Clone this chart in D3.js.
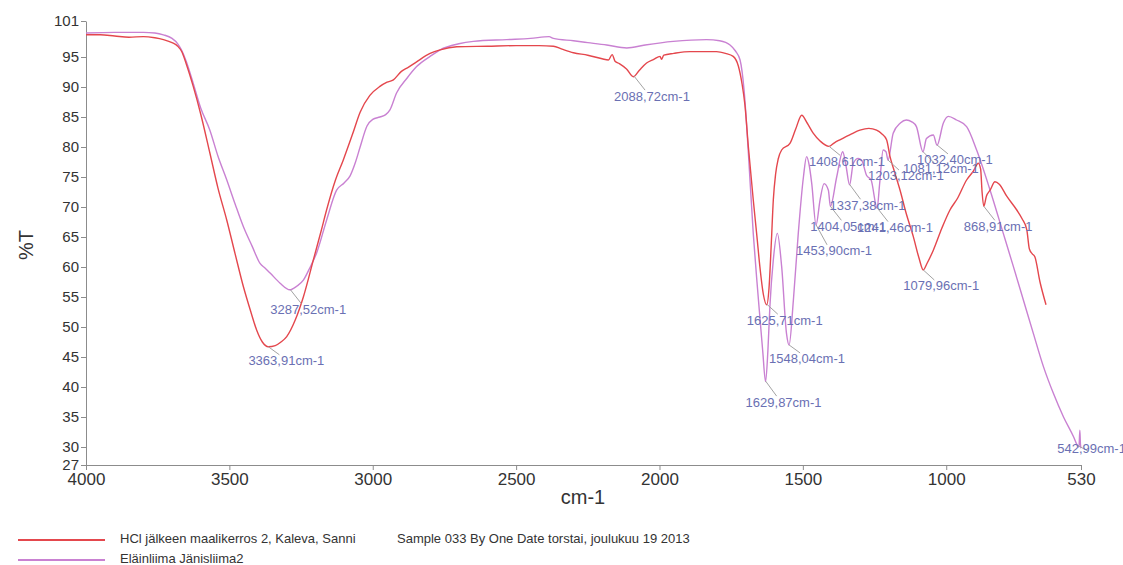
<!DOCTYPE html>
<html>
<head>
<meta charset="utf-8">
<script src="https://cdn.jsdelivr.net/npm/d3@7"></script>
<style>
  body { margin: 0; background: #fff; }
  text { font-family: "Liberation Sans", Arial, sans-serif; }
</style>
</head>
<body>
<div id="chart"></div>
<script>
// tick labels
const xTicks = [4000, 3500, 3000, 2500, 2000, 1500, 1000, 530];
const yTicks = [101, 95, 90, 85, 80, 75, 70, 65, 60, 55, 50, 45, 40, 35, 30, 27];

const seriesNames = ["HCl jälkeen maalikerros 2, Kaleva, Sanni", "Eläinliima Jänisliima2"];
const sampleNote = "Sample 033 By One Date torstai, joulukuu 19 2013";

// [wavenumber cm-1, %T]
const hclSpectrum = [
  [4000,98.7],[3950,98.7],[3900,98.5],[3850,98.3],[3800,98.4],[3760,98.2],[3730,97.9],[3700,97.4],
  [3680,96.8],[3665,95.8],[3650,93.8],[3626,90.1],[3600,85.5],[3568,79.0],[3540,73.2],[3509,67.8],
  [3480,62.2],[3451,56.7],[3425,52.5],[3405,49.5],[3385,47.5],[3364,46.7],[3340,46.9],[3320,47.5],
  [3300,48.4],[3270,51.2],[3242,55.0],[3207,61.2],[3180,66.0],[3161,69.5],[3130,74.5],[3103,77.8],
  [3070,82.2],[3044,85.8],[3010,88.6],[2975,90.1],[2950,90.8],[2928,91.2],[2900,92.6],[2875,93.3],
  [2847,94.2],[2800,95.6],[2765,96.2],[2707,96.7],[2600,96.8],[2500,96.9],[2420,96.9],[2370,96.8],
  [2340,96.3],[2300,95.7],[2250,95.3],[2200,94.7],[2178,94.5],[2165,95.4],[2155,94.3],[2140,93.9],
  [2115,93.0],[2091,91.7],[2070,92.8],[2045,94.0],[2020,94.6],[1998,95.1],[1993,94.6],[1985,95.3],
  [1950,95.6],[1894,95.9],[1801,95.9],[1770,95.6],[1743,95.1],[1725,93.5],[1712,90.5],[1702,87.0],
  [1690,80.0],[1673,71.2],[1660,65.0],[1650,60.1],[1638,55.5],[1626,53.7],[1618,56.5],[1610,64.0],
  [1603,71.2],[1595,75.5],[1586,78.0],[1574,79.5],[1545,80.6],[1525,83.0],[1504,85.3],[1485,84.0],
  [1464,82.3],[1440,81.0],[1409,80.1],[1390,80.7],[1371,81.2],[1330,82.2],[1301,82.8],[1270,83.1],
  [1243,82.8],[1225,82.2],[1208,81.2],[1196,78.4],[1180,75.8],[1161,72.8],[1140,69.0],[1115,65.1],
  [1095,61.5],[1080,59.5],[1068,60.5],[1045,62.8],[1015,66.5],[987,69.5],[960,71.5],[929,74.5],
  [905,76.0],[888,77.3],[880,76.3],[875,72.5],[869,70.1],[860,71.8],[847,72.8],[830,74.2],
  [815,73.8],[789,71.8],[754,69.5],[735,68.0],[719,66.2],[710,63.0],[700,62.2],[691,61.7],
  [673,57.5],[652,53.7]
];

const glueSpectrum = [
  [4000,99.0],[3900,99.1],[3800,99.1],[3760,99.0],[3730,98.7],[3700,98.1],[3680,97.2],[3665,96.0],
  [3650,94.2],[3626,90.6],[3600,86.5],[3568,82.8],[3540,78.5],[3509,74.5],[3480,70.5],[3451,66.7],
  [3420,63.4],[3393,60.6],[3375,59.8],[3358,59.0],[3323,57.3],[3289,56.2],[3265,56.8],[3242,57.8],
  [3220,59.8],[3196,62.3],[3161,67.8],[3126,72.8],[3100,74.0],[3079,75.2],[3060,77.5],[3044,80.0],
  [3020,83.5],[3000,84.6],[2975,85.0],[2955,85.4],[2940,86.2],[2917,89.0],[2880,91.5],[2847,93.4],
  [2800,95.1],[2765,96.2],[2700,97.2],[2649,97.6],[2533,97.9],[2450,98.1],[2385,98.4],[2370,98.1],
  [2300,97.7],[2250,97.4],[2184,97.0],[2114,96.5],[2050,97.0],[1952,97.6],[1836,97.9],[1790,97.7],
  [1754,97.0],[1735,96.0],[1719,94.5],[1705,89.5],[1690,79.0],[1673,65.6],[1660,57.5],[1650,51.7],
  [1640,46.0],[1630,40.9],[1622,46.0],[1615,53.4],[1603,61.2],[1589,65.6],[1574,60.1],[1557,48.9],
  [1548,47.0],[1533,54.5],[1516,65.6],[1498,75.0],[1487,78.4],[1478,77.0],[1469,73.9],[1454,67.0],
  [1440,71.2],[1426,73.9],[1411,72.8],[1404,70.1],[1382,75.0],[1361,79.2],[1350,77.0],[1337,73.7],
  [1324,77.3],[1307,78.1],[1295,77.8],[1278,75.3],[1262,74.5],[1241,69.8],[1232,74.0],[1220,79.5],
  [1210,79.2],[1203,77.8],[1185,82.3],[1160,84.0],[1139,84.5],[1120,84.2],[1104,83.4],[1081,79.2],
  [1069,81.4],[1045,82.0],[1032,80.3],[1010,84.0],[993,85.1],[964,84.5],[929,83.4],[894,79.5],
  [847,72.8],[801,65.6],[766,60.1],[731,54.5],[696,48.9],[661,43.4],[626,38.9],[591,35.0],
  [556,31.7],[543,30.3],[537,30.0],[534,32.8],[532,30.5],[530,29.8]
];

// peak picks: wavenumber and which spectrum (0 = HCl, 1 = glue)
const peakWavenumbers = [3363.91, 3287.52, 2088.72, 1625.71, 1629.87, 1548.04, 1453.90, 1408.61,
  1404.05, 1337.38, 1241.46, 1203.12, 1081.12, 1032.40, 1079.96, 868.91, 542.99];
const peakSeries = [0, 1, 0, 0, 1, 1, 1, 0, 1, 1, 1, 1, 1, 1, 0, 0, 1];
// vertical label offset below each pick, px
const labelDy = [15, 21, 21, 17, 22, 15, 27, 16, 21, 22, 21, 17, 18, 16, 17, 21, 4];

const width = 1123, height = 565;
const colors = ["#e4474d", "#c981d2"];

const svg = d3.select("#chart").append("svg")
  .attr("width", width)
  .attr("height", height);

const x = d3.scaleLinear().domain([4000, 530]).range([86, 1081]);
const y = d3.scaleLinear().domain([27, 101]).range([465, 21]);

// axes
const yAxis = d3.axisLeft(y).tickValues(yTicks).tickSize(5).tickSizeOuter(0).tickPadding(2);
const xAxis = d3.axisBottom(x).tickValues(xTicks).tickFormat(d3.format("d"))
  .tickSize(5).tickSizeOuter(0).tickPadding(3);

const gy = svg.append("g")
  .attr("transform", "translate(" + x.range()[0] + ",0)")
  .call(yAxis);
const gx = svg.append("g")
  .attr("transform", "translate(0," + y.range()[0] + ")")
  .call(xAxis);

svg.selectAll(".domain, .tick line").attr("stroke", "#8c8c8c");
gy.selectAll("text").style("font-size", "15px").attr("fill", "#333");
gx.selectAll("text").style("font-size", "17px").attr("fill", "#333");

svg.append("text")
  .attr("transform", "translate(28,245) rotate(-90)")
  .attr("text-anchor", "middle")
  .attr("dominant-baseline", "middle")
  .style("font-size", "20px")
  .attr("fill", "#333")
  .text("%T");

svg.append("text")
  .attr("x", 583).attr("y", 504)
  .attr("text-anchor", "middle")
  .style("font-size", "20px")
  .attr("fill", "#333")
  .text("cm-1");

// spectra
const line = d3.line()
  .x(d => x(d[0]))
  .y(d => y(d[1]))
  .curve(d3.curveMonotoneX);

const spectra = [hclSpectrum, glueSpectrum];
[1, 0].forEach(i => {
  svg.append("path")
    .datum(spectra[i])
    .attr("fill", "none")
    .attr("stroke", colors[i])
    .attr("stroke-width", 1.4)
    .attr("d", line);
});

// value of a spectrum at a wavenumber, linear between read points
function valueAt(data, wn) {
  for (let k = 0; k < data.length - 1; k++) {
    const a = data[k], b = data[k + 1];
    if (wn <= a[0] && wn >= b[0]) {
      const t = (a[0] - wn) / (a[0] - b[0]);
      return a[1] + t * (b[1] - a[1]);
    }
  }
  return data[data.length - 1][1];
}

const fmt = d3.format(".2f");
const peaks = peakWavenumbers.map((wn, i) => ({
  wn: wn,
  t: valueAt(spectra[peakSeries[i]], wn),
  dy: labelDy[i]
}));

const pk = svg.append("g").selectAll("g")
  .data(peaks)
  .enter().append("g");

pk.append("line")
  .attr("x1", d => x(d.wn))
  .attr("y1", d => y(d.t))
  .attr("x2", d => x(d.wn) + 11)
  .attr("y2", d => y(d.t) + Math.max(d.dy - 7, 6))
  .attr("stroke", "#a3a3a3")
  .attr("stroke-width", 1);

pk.append("text")
  .attr("x", d => x(d.wn) - 20)
  .attr("y", d => y(d.t) + d.dy)
  .attr("dominant-baseline", "middle")
  .style("font-size", "13px")
  .attr("fill", "#6a70b3")
  .text(d => fmt(d.wn).replace(".", ",") + "cm-1");

// legend
const legend = svg.append("g").selectAll("g")
  .data(seriesNames)
  .enter().append("g")
  .attr("transform", (d, i) => "translate(0," + (540 + i * 20) + ")");

legend.append("line")
  .attr("x1", 18).attr("x2", 105)
  .attr("stroke", (d, i) => colors[i])
  .attr("stroke-width", 2);

legend.append("text")
  .attr("x", 120)
  .attr("dominant-baseline", "middle")
  .style("font-size", "13px")
  .attr("fill", "#333")
  .text(d => d);

svg.append("text")
  .attr("x", 397).attr("y", 540)
  .attr("dominant-baseline", "middle")
  .style("font-size", "13px")
  .attr("fill", "#333")
  .text(sampleNote);
</script>
</body>
</html>
